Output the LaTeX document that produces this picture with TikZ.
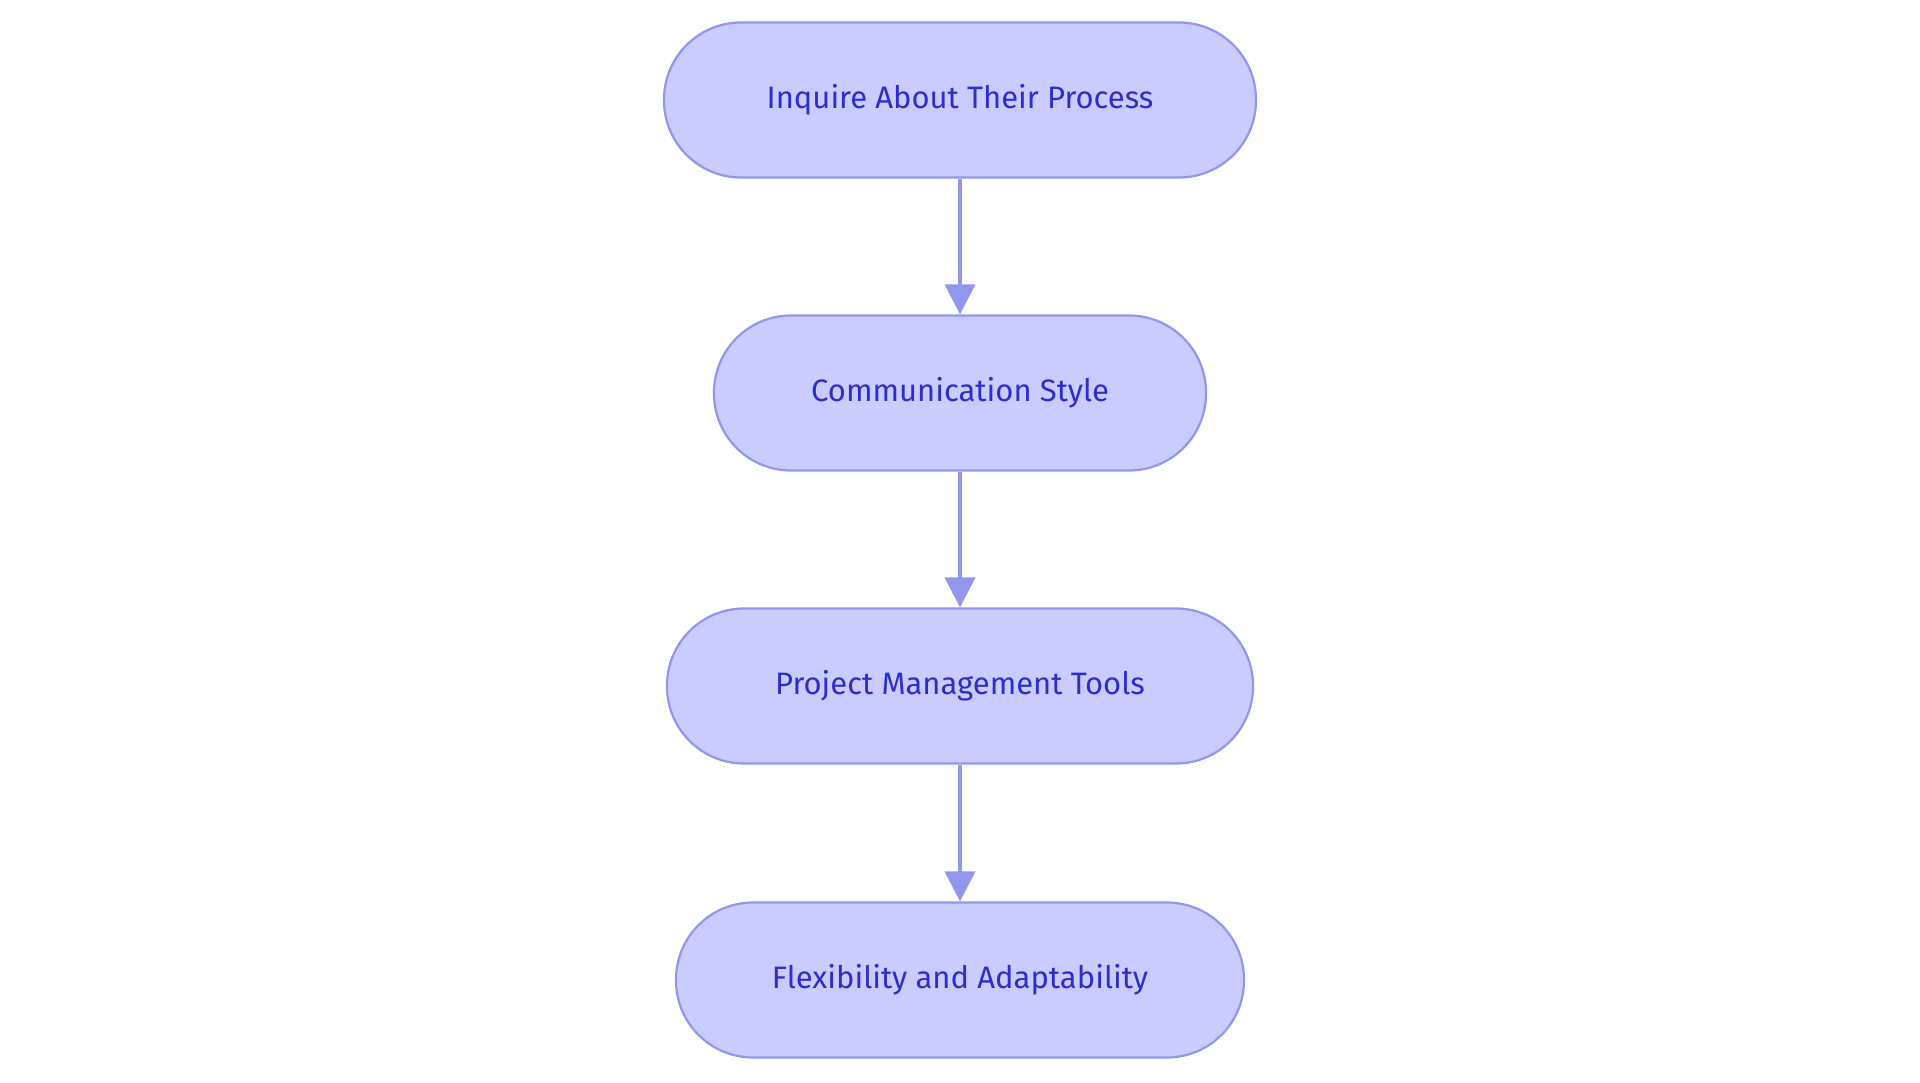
\documentclass[tikz,border=0pt]{standalone}
\usepackage{fontspec}
\setmainfont{Fira Sans}
\usetikzlibrary{arrows.meta}
\definecolor{nfill}{HTML}{CACBFE}
\definecolor{nline}{HTML}{9396EE}
\definecolor{ntext}{HTML}{2E2ECC}
\tikzset{
 box/.style={draw=nline,fill=nline!0,line width=2.2pt,fill=nfill,rounded corners=77pt,minimum height=155pt,text=ntext,font=\fontsize{31}{36}\selectfont,inner sep=0pt},
 conn/.style={draw=nline,line width=4pt,-{Triangle[length=30pt,width=30pt]}}
}
\begin{document}
\begin{tikzpicture}[x=1pt,y=-1pt]
\useasboundingbox (0,0) rectangle (1920,1083);
\node[box,minimum width=592pt] (a) at (960,100) {Inquire About Their Process};
\node[box,minimum width=492pt] (b) at (960,393) {Communication Style};
\node[box,minimum width=586pt] (c) at (960,686) {Project Management Tools};
\node[box,minimum width=568pt] (d) at (960,980) {Flexibility and Adaptability};
\draw[conn] (a) -- (b);
\draw[conn] (b) -- (c);
\draw[conn] (c) -- (d);
\end{tikzpicture}
\end{document}
